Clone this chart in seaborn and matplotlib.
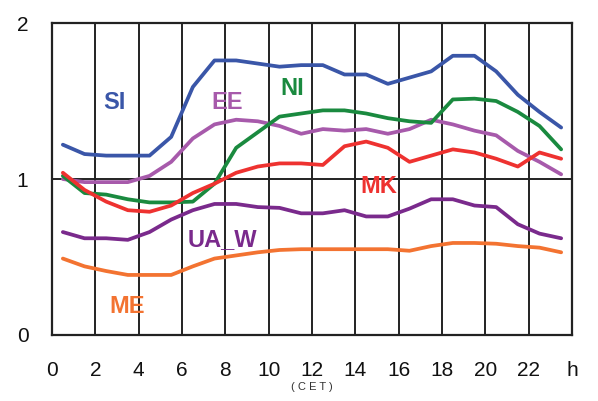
import matplotlib
matplotlib.use("Agg")
import matplotlib.pyplot as plt
import seaborn as sns
import pandas as pd

hours = [h + 0.5 for h in range(24)]

SI = [1.22, 1.16, 1.15, 1.15, 1.15, 1.27, 1.59, 1.76, 1.76, 1.74, 1.72, 1.73,
      1.73, 1.67, 1.67, 1.61, 1.65, 1.69, 1.79, 1.79, 1.69, 1.54, 1.43, 1.33]
EE = [1.00, 0.98, 0.98, 0.98, 1.02, 1.11, 1.26, 1.35, 1.38, 1.37, 1.34, 1.29,
      1.32, 1.31, 1.32, 1.29, 1.32, 1.38, 1.35, 1.31, 1.28, 1.18, 1.11, 1.03]
NI = [1.02, 0.91, 0.90, 0.87, 0.85, 0.85, 0.855, 0.97, 1.20, 1.30, 1.40, 1.42,
      1.44, 1.44, 1.42, 1.39, 1.37, 1.36, 1.51, 1.515, 1.50, 1.43, 1.34, 1.19]
MK = [1.04, 0.93, 0.855, 0.80, 0.79, 0.83, 0.91, 0.97, 1.04, 1.08, 1.10, 1.10,
      1.09, 1.21, 1.24, 1.20, 1.11, 1.15, 1.19, 1.17, 1.13, 1.08, 1.17, 1.13]
UA_W = [0.66, 0.62, 0.62, 0.61, 0.66, 0.74, 0.80, 0.84, 0.84, 0.82, 0.815, 0.78,
        0.78, 0.80, 0.76, 0.76, 0.81, 0.87, 0.87, 0.83, 0.82, 0.71, 0.65, 0.62]
ME = [0.49, 0.44, 0.41, 0.385, 0.385, 0.385, 0.44, 0.49, 0.51, 0.53, 0.545, 0.55,
      0.55, 0.55, 0.55, 0.55, 0.54, 0.57, 0.59, 0.59, 0.585, 0.57, 0.56, 0.53]

series = {"SI": SI, "EE": EE, "NI": NI, "MK": MK, "UA_W": UA_W, "ME": ME}
colors = {"SI": "#3a56a8", "EE": "#a75aab", "NI": "#1a8a3f",
          "MK": "#ee3230", "UA_W": "#7a2a8c", "ME": "#f37331"}
label_pos = {"SI": (2.9, 1.49), "EE": (8.1, 1.49), "NI": (11.1, 1.58),
             "MK": (15.1, 0.95), "UA_W": (7.85, 0.61), "ME": (3.45, 0.18)}

xticks = list(range(0, 25, 2))
xticklabels = [str(t) for t in range(0, 23, 2)] + ["h"]

df = pd.concat([pd.DataFrame({"hour": hours, "value": v, "country": k})
                for k, v in series.items()], ignore_index=True)

sns.set_style("white")
plt.rcParams["font.family"] = ["Liberation Sans", "DejaVu Sans"]

fig = plt.figure(figsize=(5.98, 4.01), dpi=100)
ax = fig.add_axes([0.087, 0.1646, 0.8695, 0.778])

for x in range(2, 24, 2):
    ax.axvline(x, color="#222222", lw=1.4, zorder=1)
ax.axhline(1, color="#222222", lw=1.4, zorder=1)

sns.lineplot(data=df, x="hour", y="value", hue="country", palette=colors,
             linewidth=2.7, legend=False, ax=ax, zorder=3)

for k, (lx, ly) in label_pos.items():
    ax.text(lx, ly, k, color=colors[k], fontsize=17, fontweight="bold",
            ha="center", va="center", zorder=4)

ax.set_xlim(0, 24)
ax.set_ylim(0, 2)
ax.set_xticks(xticks)
ax.set_xticklabels(xticklabels)
ax.set_yticks([0, 1, 2])
ax.tick_params(axis="both", direction="out", width=1.4,
               colors="#222222", labelsize=15, labelcolor="#111111")
ax.tick_params(axis="x", length=5, pad=14)
ax.tick_params(axis="y", length=8, pad=9)
for s in ax.spines.values():
    s.set_color("#222222")
    s.set_linewidth(1.6)
ax.set_xlabel("( C E T )", fontsize=8, color="#333333", labelpad=1)
ax.set_ylabel("")

fig.savefig("out.png", dpi=100)
